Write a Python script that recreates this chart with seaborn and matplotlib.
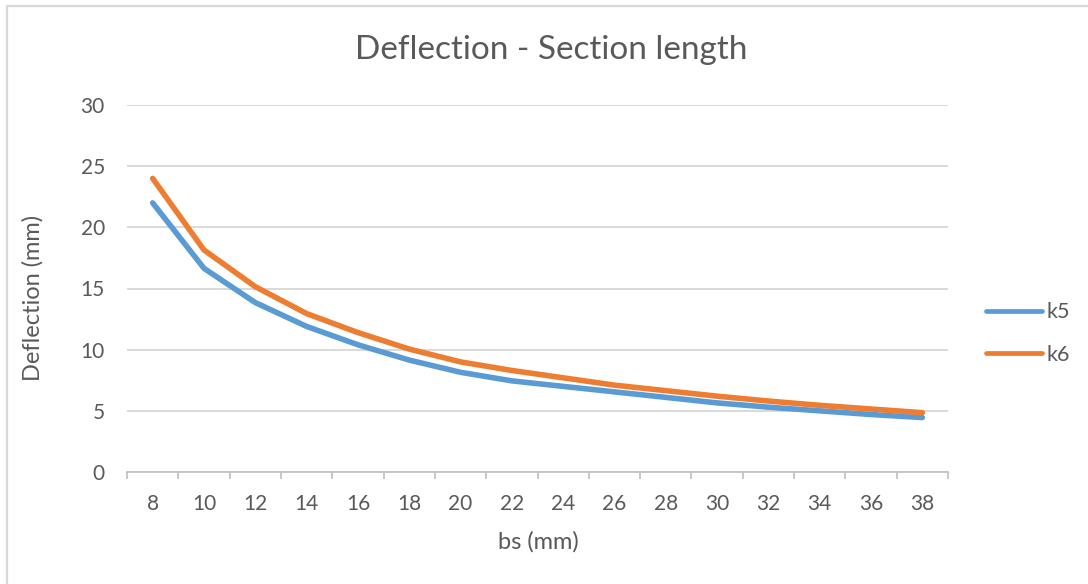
import matplotlib
matplotlib.use("Agg")
import matplotlib.pyplot as plt
from matplotlib.lines import Line2D
import numpy as np
import pandas as pd
import seaborn as sns

# Section length bs (mm) and mid-span deflection (mm) for two stiffness cases
bs = [8, 10, 12, 14, 16, 18, 20, 22, 24, 26, 28, 30, 32, 34, 36, 38]
k5 = [22.0, 16.65, 13.85, 11.9, 10.4, 9.15, 8.15, 7.45, 7.0, 6.55, 6.1, 5.65, 5.3, 5.0, 4.7, 4.45]
k6 = [24.0, 18.15, 15.15, 12.95, 11.4, 10.05, 9.0, 8.3, 7.7, 7.1, 6.65, 6.2, 5.8, 5.45, 5.15, 4.85]
series_names = ["k5", "k6"]
y_ticks = [0, 5, 10, 15, 20, 25, 30]

TEXT = "#595959"
GRID = "#d9d9d9"
AXIS = "#bfbfbf"
palette = {"k5": "#5B9BD5", "k6": "#ED7D31"}

df = pd.DataFrame({"bs": bs * 2,
                   "deflection": k5 + k6,
                   "series": ["k5"] * len(bs) + ["k6"] * len(bs)})

sns.set_theme(style="white")
plt.rcParams["font.family"] = ["Lato", "DejaVu Sans"]

fig = plt.figure(figsize=(10.88, 5.84), dpi=100)
W, H = 1088, 584
ax = fig.add_axes([127 / W, (H - 472) / H, (948 - 127) / W, (472 - 105) / H])

sns.lineplot(data=df, x="bs", y="deflection", hue="series", palette=palette,
             hue_order=series_names, linewidth=4.0, ax=ax, legend=False,
             solid_capstyle="round", solid_joinstyle="round")

# axes limits and ticks
ax.set_xlim(bs[0] - 1, bs[-1] + 1)
ax.set_ylim(y_ticks[0], y_ticks[-1])
ax.set_xticks(bs)
ax.set_xticklabels([str(v) for v in bs])
ax.set_xticks(np.arange(bs[0] - 1, bs[-1] + 2, 2), minor=True)
ax.set_yticks(y_ticks)
ax.set_yticklabels([str(v) for v in y_ticks])

ax.tick_params(axis="x", which="major", length=0, pad=16, labelsize=15, labelcolor=TEXT)
ax.tick_params(axis="x", which="minor", length=5, width=1.2, color=AXIS, direction="out", bottom=True)
ax.tick_params(axis="y", which="major", length=0, pad=16, labelsize=15, labelcolor=TEXT)

ax.grid(axis="y", color=GRID, linewidth=1.4)
ax.grid(axis="x", visible=False)
ax.set_axisbelow(True)
for side in ["top", "right", "left"]:
    ax.spines[side].set_visible(False)
ax.spines["bottom"].set_color(AXIS)
ax.spines["bottom"].set_linewidth(1.2)

ax.set_xlabel("bs (mm)", fontsize=17, color=TEXT)
ax.set_ylabel("Deflection (mm)", fontsize=17, color=TEXT)
ax.xaxis.set_label_coords((538 - 127) / 821, (472 - 531) / 367)
ax.yaxis.set_label_coords((44 - 127) / 821, (472 - 298) / 367)

fig.text(551 / W, 1 - 50 / H, "Deflection - Section length", ha="center", va="center",
         fontsize=24, color=TEXT)

handles = [Line2D([0], [0], color=palette[n], linewidth=3.4, solid_capstyle="round")
           for n in series_names]
ax.legend(handles, series_names, loc="center left",
          bbox_to_anchor=(986 / W, 1 - 333.5 / H), bbox_transform=fig.transFigure,
          frameon=False, borderpad=0, borderaxespad=0, handlelength=2.6,
          handletextpad=0.2, labelspacing=1.05, fontsize=15.5, labelcolor=TEXT)

# chart-area frame (left and top edges)
fig.add_artist(Line2D([7 / W, 7 / W], [0, 1 - 6 / H], transform=fig.transFigure,
                      color=GRID, linewidth=1.6))
fig.add_artist(Line2D([7 / W, 1], [1 - 6 / H, 1 - 6 / H], transform=fig.transFigure,
                      color=GRID, linewidth=1.6))

fig.savefig("out.png", dpi=100, facecolor="white")
